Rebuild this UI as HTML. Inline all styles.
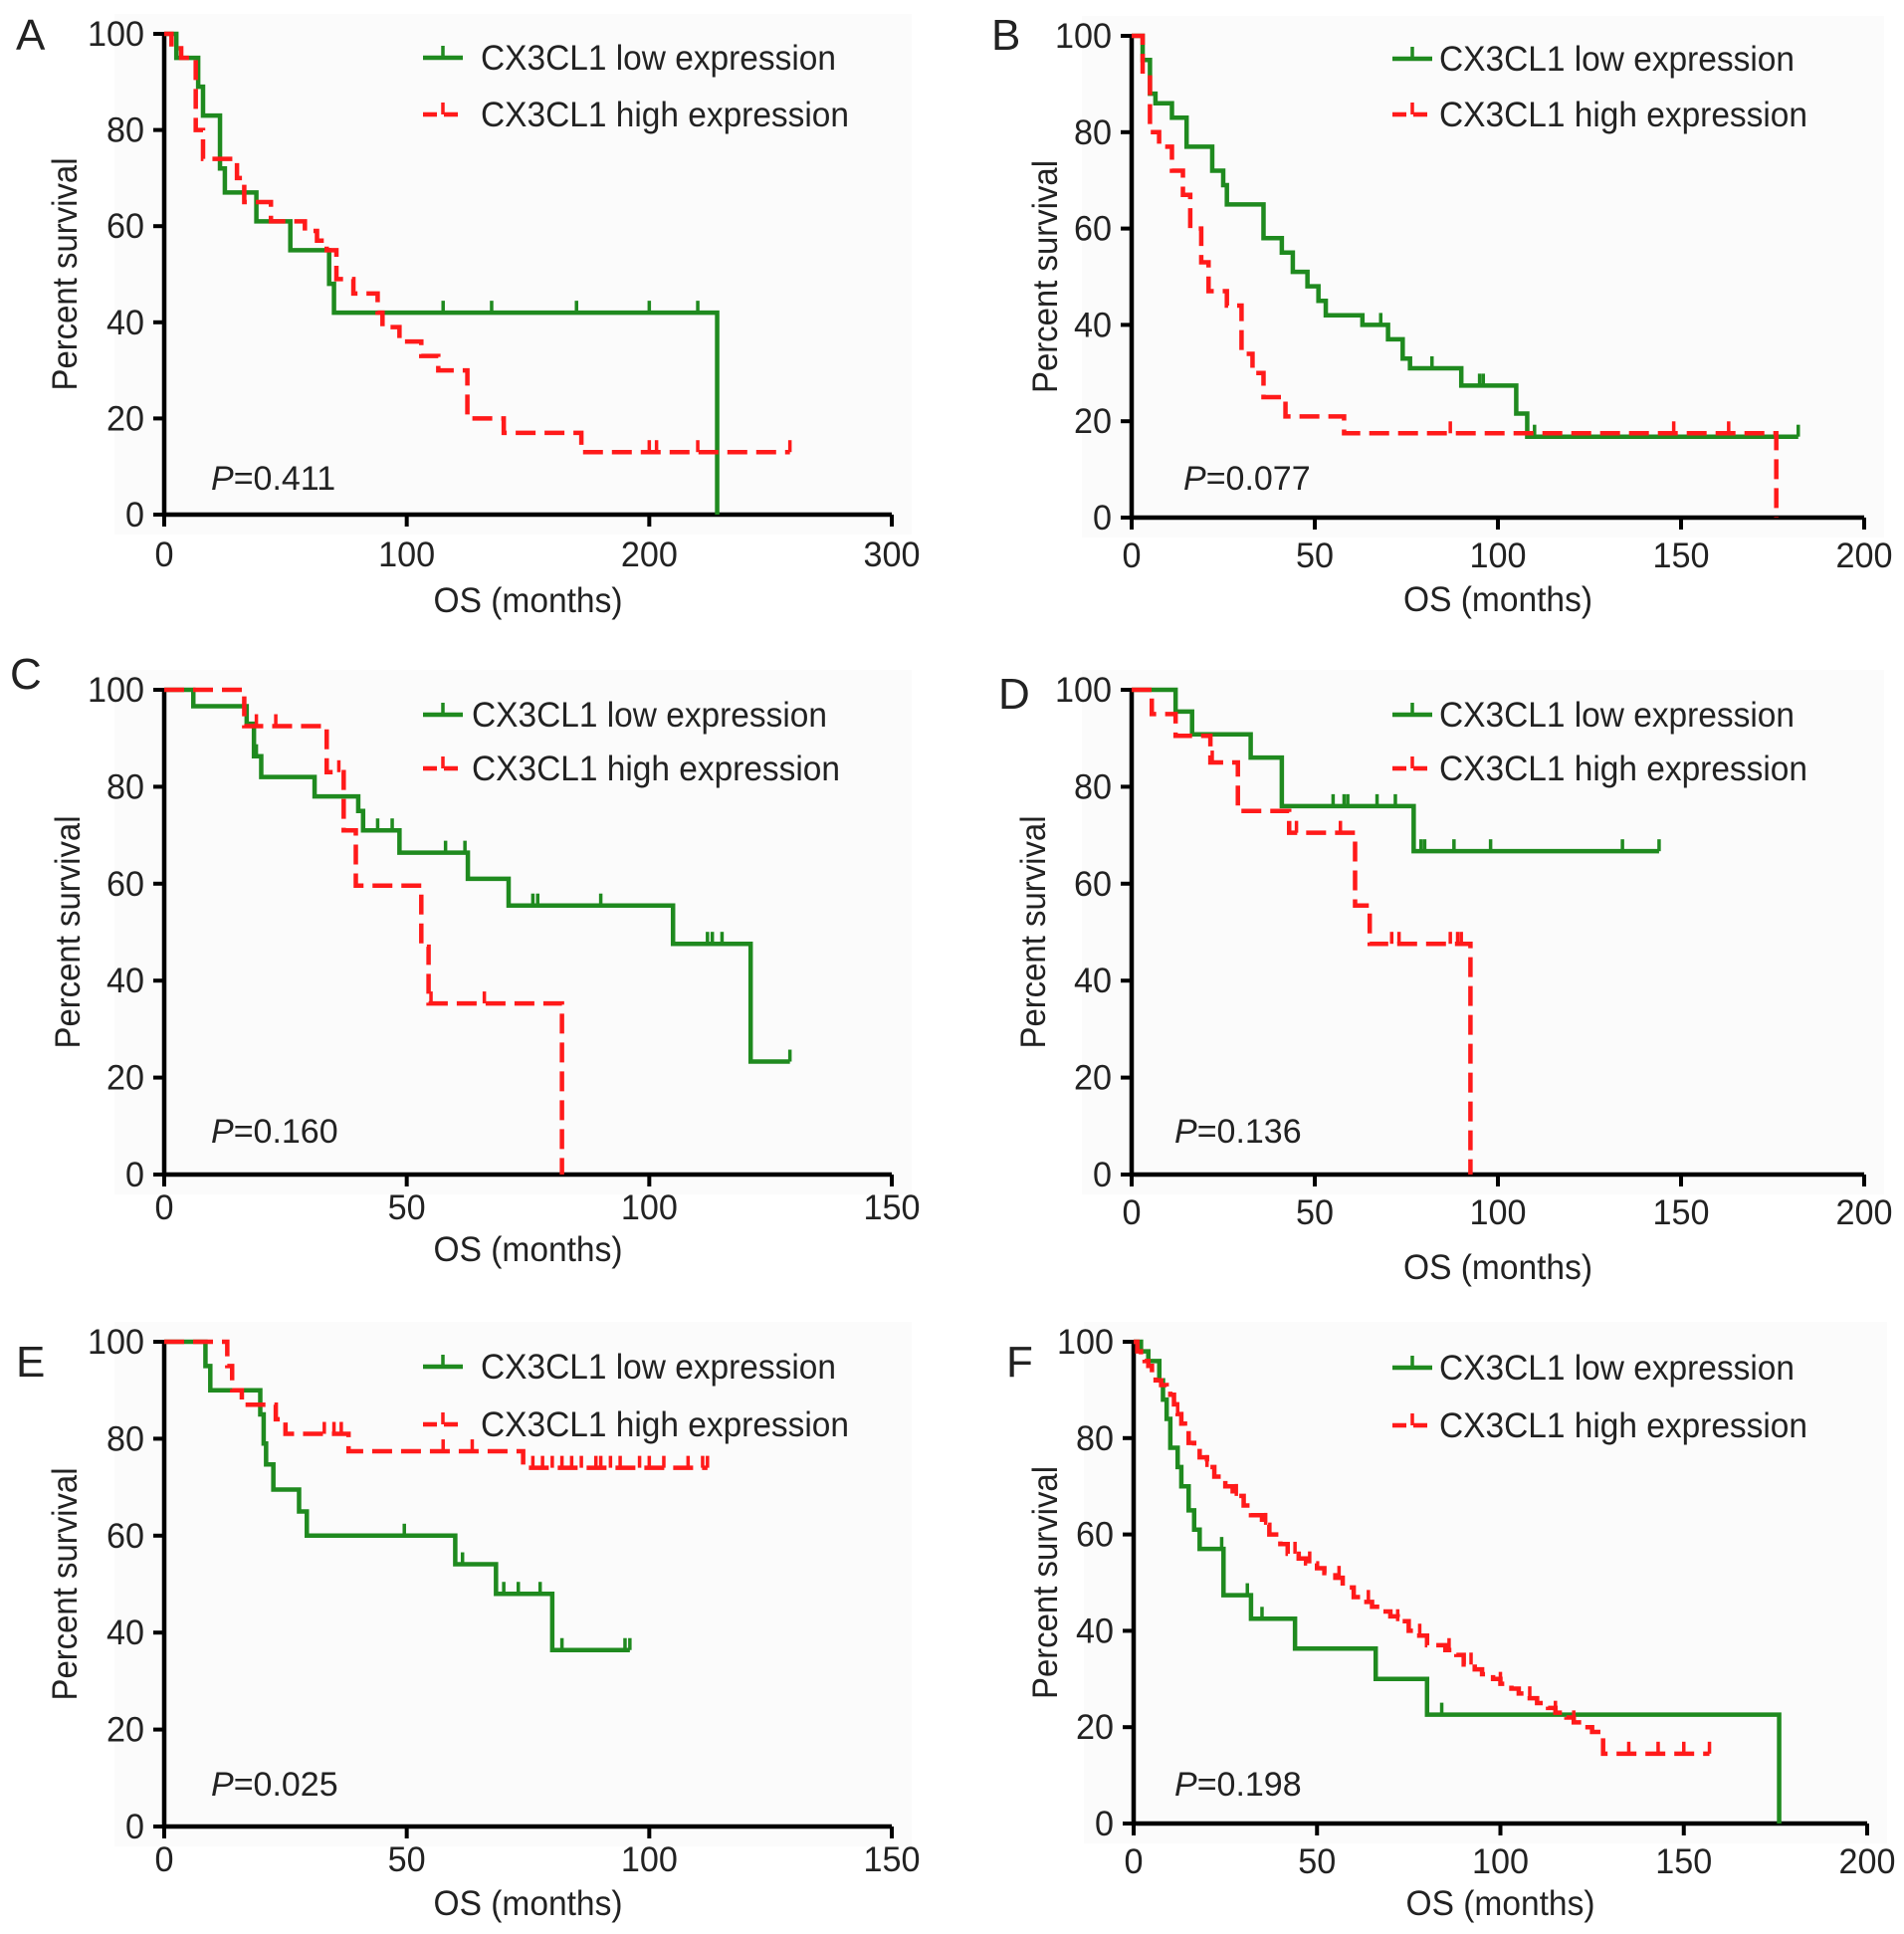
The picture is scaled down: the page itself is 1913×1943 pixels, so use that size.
<!DOCTYPE html>
<html><head><meta charset="utf-8">
<style>
html,body{margin:0;padding:0;background:#fff;}
svg{display:block;}
text{font-family:"Liberation Sans",Arial,sans-serif;fill:#222;}
</style></head>
<body>
<svg id="fig" width="1913" height="1943" viewBox="0 0 1913 1943" xmlns="http://www.w3.org/2000/svg"></svg>
<script>
// ---------- DATA (time in months, survival in %) ----------
// Panel A
const aLowT=[0,5,14,16,23,25,38,52,68,70,228];
const aLowS=[100,95,89,83,72,67,61,55,48,42,0];
const aLowEnd=228;
const aLowCens=[115,135,170,200,220];
const aHighT=[0,3,7,13,16,30,33,44,58,63,67,71,78,88,90,97,106,113,125,140,172];
const aHighS=[100,97,95,80,74,70,65,61,59,57,55,49,46,42,39,36,33,30,20,17,13];
const aHighEnd=258;
const aHighCens=[200,203,220,258];
// Panel B
const bLowT=[0,3,5,6.5,11,15,22,25,26,36,41,44,48,51,53,63,70,74,76,90,105,108];
const bLowS=[100,95,88,86,83,77,72,69,65,58,55,51,48,45,42,40,37,33,31,27.4,21.6,16.8];
const bLowEnd=182;
const bLowCens=[68,82,95,96,110,182];
const bHighT=[0,3,5,7.5,11,14,16,19,21,26,30,33,36,42,58,176];
const bHighS=[100,92,80,77,72,67,60,53,47,44,34,30,25,21,17.5,0];
const bHighEnd=176;
const bHighCens=[87,148,163];
// Panel C
const cLowT=[0,6,17,18.5,20,31,40,41,48.5,62.6,71,104.9,120.9];
const cLowS=[100,96.6,93,86.3,82,78,75,71,66.4,61,55.5,47.6,23.3];
const cLowEnd=129;
const cLowCens=[19,44,47,58,62,76,77,90,112,113,115,129];
const cHighT=[0,16.5,33.5,37,39.5,53,54.5,82];
const cHighS=[100,92.5,83,71,59.6,47,35.3,0];
const cHighEnd=82;
const cHighCens=[19,23,36,55,66];
// Panel D
const dLowT=[0,12,16.5,32.5,41,77];
const dLowS=[100,95.5,90.8,86,76,66.7];
const dLowEnd=144;
const dLowCens=[55,58,59,67,72,79,80,88,98,134,144];
const dHighT=[0,5.5,12,21.5,29,43,61,65,92.5];
const dHighS=[100,95,90.5,85,75,70.5,55.5,47.6,0];
const dHighEnd=92.5;
const dHighCens=[22,45,57,71,73,87,89,90];
// Panel E
const eLowT=[0,8.5,9.5,19.8,20.5,21,22.5,27.8,29.4,60,68.4,80];
const eLowS=[100,95,90,85,79,74.7,69.5,65,60,54.1,48,36.4];
const eLowEnd=96;
const eLowCens=[49.5,61.5,70,73,77.5,82,95,96];
const eHighT=[0,13,14,16,23,25,38];
const eHighS=[100,95,90,87,84,81,77.4];
const eHighT2=[74];
const eHighS2=[74];
const eHighEnd=112;
const eHighCens=[33,35,36.5,57.5,63.5,76,78,80,82,84,86,89,90,92,94,98,100,103,108,111,112];
// Panel F
const fLowT=[0,2,4,7,8,9,10,12,13,15,16.5,18,24.5,32,44,66,80,176];
const fLowS=[100,98,96,92,88,84,78,74,70,65,61,57,47.4,42.5,36.3,30,22.6,0];
const fLowEnd=176;
const fLowCens=[24,31,35,84];
const fHighT=[0,1,2,3,4,5,6,7.5,9,10,11,12,13,14,15,16.5,18,20,22,25,27,30,32,35,37,40,42,45,47,50,52,55,57,60,62,65,67,70,72,75,77,80,85,88,90,93,95,98,100,103,105,108,110,113,115,118,120,123,125,128];
const fHighS=[100,98,97,96,95,93,92,91,90,89,87,85,83,81,79,78,76,74,72,70,68,66,64,62,60,58,56,55,54,53,52,51,49,47,46,45,44,43,42,40,39,37,36,35,33,32,31,30,29,28,27,26,25,24,23,22,21,20,19,14.5];
const fHighEnd=157;
const fHighCens=[12,20,28,36,44,48,56,64,72,78,86,92,100,108,115,120,135,143,150,157];

const xTicksA=[0,100,200,300];
const xTicks150=[0,50,100,150];
const xTicks200=[0,50,100,150,200];
const yTicks=[0,20,40,60,80,100];
const pValues=["0.411","0.077","0.160","0.136","0.025","0.198"];
const panelLetters=["A","B","C","D","E","F"];

// ---------- LAYOUT ----------
const NS="http://www.w3.org/2000/svg";
const svg=document.getElementById('fig');
function mk(tag,attrs,parent){const e=document.createElementNS(NS,tag);for(const k in attrs)e.setAttribute(k,attrs[k]);(parent||svg).appendChild(e);return e;}

const panels=[
 {id:'a',x0:165,x1:896,yTop:34,yBot:517,xmax:300,ticks:xTicksA,letter:[16,50],leg:[425,483,58,115],p:[212,492],xlabY:52,titleY:98,ytitleX:77,
  low:[aLowT,aLowS,aLowEnd,aLowCens],high:[[aHighT,aHighS]],highEnd:aHighEnd,highCens:aHighCens},
 {id:'b',x0:1137,x1:1873,yTop:36,yBot:520,xmax:200,ticks:xTicks200,letter:[996,50],leg:[1399,1446,59,115],p:[1189,492],xlabY:50,titleY:94,ytitleX:1062,
  low:[bLowT,bLowS,bLowEnd,bLowCens],high:[[bHighT,bHighS]],highEnd:bHighEnd,highCens:bHighCens},
 {id:'c',x0:165,x1:896,yTop:693,yBot:1180,xmax:150,ticks:xTicks150,letter:[10,692],leg:[425,474,718,772],p:[212,1148],xlabY:45,titleY:87,ytitleX:80,
  low:[cLowT,cLowS,cLowEnd,cLowCens],high:[[cHighT,cHighS]],highEnd:cHighEnd,highCens:cHighCens},
 {id:'d',x0:1137,x1:1873,yTop:693,yBot:1180,xmax:200,ticks:xTicks200,letter:[1003,712],leg:[1399,1446,718,772],p:[1180,1148],xlabY:50,titleY:105,ytitleX:1050,
  low:[dLowT,dLowS,dLowEnd,dLowCens],high:[[dHighT,dHighS]],highEnd:dHighEnd,highCens:dHighCens},
 {id:'e',x0:165,x1:896,yTop:1348,yBot:1835,xmax:150,ticks:xTicks150,letter:[16,1383],leg:[425,483,1373,1431],p:[212,1804],xlabY:45,titleY:89,ytitleX:77,
  low:[eLowT,eLowS,eLowEnd,eLowCens],high:[[eHighT,eHighS],[eHighT2,eHighS2]],highEnd:eHighEnd,highCens:eHighCens},
 {id:'f',x0:1139,x1:1876,yTop:1348,yBot:1832,xmax:200,ticks:xTicks200,letter:[1011,1383],leg:[1399,1446,1374,1432],p:[1180,1804],xlabY:50,titleY:92,ytitleX:1062,
  low:[fLowT,fLowS,fLowEnd,fLowCens],high:[[fHighT,fHighS]],highEnd:fHighEnd,highCens:fHighCens}
];

const GREEN='#1f8a1f', RED='#ff1a1a';

panels.forEach((P,i)=>{
  const g=mk('g',{});
  
  
  const sx=t=>P.x0+(t/P.xmax)*(P.x1-P.x0);
  const sy=s=>P.yBot-(s/100)*(P.yBot-P.yTop);
  const bg=mk('rect',{x:P.x0-50,y:P.yTop-20,width:P.x1-P.x0+70,height:P.yBot-P.yTop+40,fill:'#fbfbfb'},g);
  
  
  const L=mk('text',{x:P.letter[0],y:P.letter[1],'font-size':44},g); L.textContent=panelLetters[i];
  
  
  const ax=mk('path',{d:`M${P.x0},${P.yTop-2}V${P.yBot}H${P.x1}`,stroke:'#000','stroke-width':4.5,fill:'none'},g);
  
  
  yTicks.forEach(v=>{
    mk('line',{x1:P.x0-11,x2:P.x0,y1:sy(v),y2:sy(v),stroke:'#000','stroke-width':4},g);
    const t=mk('text',{x:P.x0-20,y:sy(v)+12,'font-size':35,'text-anchor':'end','textLength':String(v).length*19,'lengthAdjust':'spacingAndGlyphs'},g); t.textContent=v;
    
    
  });
  P.ticks.forEach(v=>{
    mk('line',{x1:sx(v),x2:sx(v),y1:P.yBot,y2:P.yBot+12,stroke:'#000','stroke-width':4},g);
    const t=mk('text',{x:sx(v),y:P.yBot+P.xlabY,'font-size':35,'text-anchor':'middle','textLength':String(v).length*19,'lengthAdjust':'spacingAndGlyphs'},g); t.textContent=v;
    
    
  });
  const xt=mk('text',{x:(P.x0+P.x1)/2,y:P.yBot+P.titleY,'font-size':35,'text-anchor':'middle','textLength':190,'lengthAdjust':'spacingAndGlyphs'},g); xt.textContent='OS (months)';
  
  
  const ym=(P.yTop+P.yBot)/2;
  const yt=mk('text',{x:P.ytitleX,y:ym,'font-size':35,'text-anchor':'middle','textLength':234,'lengthAdjust':'spacingAndGlyphs',transform:`rotate(-90 ${P.ytitleX} ${ym})`},g); yt.textContent='Percent survival';
  
  
  const pt=mk('text',{x:P.p[0],y:P.p[1],'font-size':34},g);
  pt.innerHTML='<tspan font-style="italic">P</tspan>='+pValues[i];
  
  
  function stepPath(T,S,end){
    let d=`M${sx(T[0])},${sy(S[0])}`;
    for(let k=1;k<T.length;k++){d+=`H${sx(T[k])}V${sy(S[k])}`;}
    if(end>T[T.length-1]) d+=`H${sx(end)}`;
    return d;
  }
  function survAt(T,S,t){let s=S[0];for(let k=0;k<T.length;k++){if(T[k]<=t)s=S[k];}return s;}
  const [lT,lS,lEnd,lC]=P.low;
  const lp=mk('path',{d:stepPath(lT,lS,lEnd),stroke:GREEN,'stroke-width':4.5,fill:'none'},g);
  
  
  lC.forEach(t=>{const s=survAt(lT,lS,t);const c=mk('line',{x1:sx(t),x2:sx(t),y1:sy(s),y2:sy(s)-12,stroke:GREEN,'stroke-width':3.5},g);
    
    });
  let hT=[],hS=[];P.high.forEach(([a,b])=>{hT=hT.concat(a);hS=hS.concat(b);});
  const hp=mk('path',{d:stepPath(hT,hS,P.highEnd),stroke:RED,'stroke-width':4.5,fill:'none','stroke-dasharray':'20 9'},g);
  
  
  P.highCens.forEach(t=>{const s=survAt(hT,hS,t);const c=mk('line',{x1:sx(t),x2:sx(t),y1:sy(s),y2:sy(s)-12,stroke:RED,'stroke-width':3.5},g);
    
    });
  const [lx0,tx,ly1,ly2]=P.leg;
  const le1=mk('g',{},g);
  
  
  mk('line',{x1:lx0,x2:lx0+40,y1:ly1,y2:ly1,stroke:GREEN,'stroke-width':4.5},le1);
  mk('line',{x1:lx0+20,x2:lx0+20,y1:ly1,y2:ly1-12,stroke:GREEN,'stroke-width':3.5},le1);
  const t1=mk('text',{x:tx,y:ly1+12,'font-size':35,'textLength':357,'lengthAdjust':'spacingAndGlyphs'},le1); t1.textContent='CX3CL1 low expression';
  const le2=mk('g',{},g);
  
  
  mk('line',{x1:lx0,x2:lx0+40,y1:ly2,y2:ly2,stroke:RED,'stroke-width':4.5,'stroke-dasharray':'14 7'},le2);
  mk('line',{x1:lx0+20,x2:lx0+20,y1:ly2,y2:ly2-12,stroke:RED,'stroke-width':3.5},le2);
  const t2=mk('text',{x:tx,y:ly2+12,'font-size':35,'textLength':370,'lengthAdjust':'spacingAndGlyphs'},le2); t2.textContent='CX3CL1 high expression';
});
</script>
</body></html>
